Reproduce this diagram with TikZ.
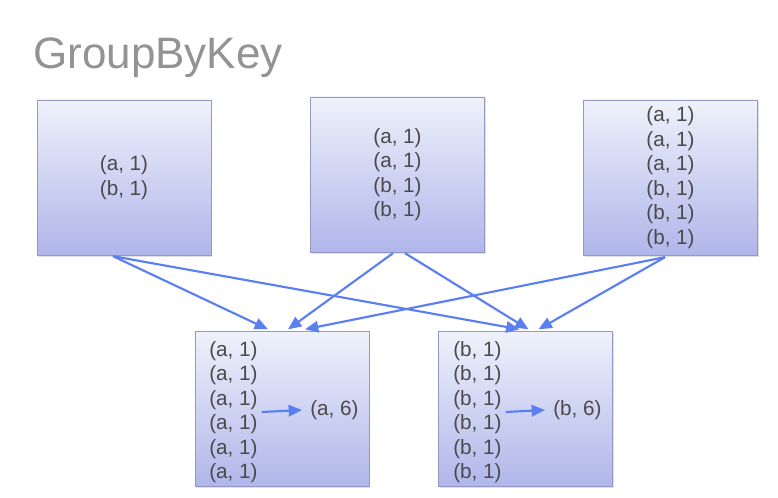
\documentclass[tikz,border=0pt]{standalone}
\usepackage{fontspec}
\setmainfont{Liberation Sans}
\usepackage{xcolor}
\usetikzlibrary{arrows.meta,positioning,calc,shadows}

\definecolor{boxtop}{HTML}{EFF1FB}
\definecolor{boxbot}{HTML}{B0B6EA}
\definecolor{boxline}{HTML}{9499C2}
\definecolor{arrowblue}{HTML}{5A7FF0}
\definecolor{pairtext}{HTML}{4A4A4A}
\definecolor{titlegray}{HTML}{939393}

\begin{document}
\begin{tikzpicture}[
    x=0.75pt, y=-0.75pt,
    box/.style={rectangle, draw=boxline, top color=boxtop, bottom color=boxbot, inner sep=0pt, outer sep=0pt, minimum width=130.5pt, minimum height=116.5pt, align=center, text=pairtext, font=\fontsize{15.5}{18.4}\selectfont, drop shadow={shadow xshift=0.8pt, shadow yshift=-1.2pt, opacity=0.25}},
    pairs/.style={inner sep=0pt, align=left, text=pairtext, font=\fontsize{15.5}{18.4}\selectfont},
    arrow/.style={-{Triangle[length=10pt,width=8.5pt]}, line width=1.6pt, draw=arrowblue}
]
    \useasboundingbox (0,0) rectangle (778,497);
    \node [anchor=base west, inner sep=0pt, text=titlegray, font=\fontsize{33}{40}\selectfont] (title) at (33,68) {GroupByKey};

    % input partitions
    \node [box] (in1) at (124,177.5) {(a, 1)\\(b, 1)};
    \node [box] (in2) at (397.5,174.5) {(a, 1)\\(a, 1)\\(b, 1)\\(b, 1)};
    \node [box] (in3) at (670.5,177.5) {(a, 1)\\(a, 1)\\(a, 1)\\(b, 1)\\(b, 1)\\(b, 1)};

    % grouped partitions
    \node [box] (grpa) at (282,409) {};
    \node [box] (grpb) at (525.5,409) {};
    \node [pairs, anchor=west] (lista) at (209,412) {(a, 1)\\(a, 1)\\(a, 1)\\(a, 1)\\(a, 1)\\(a, 1)};
    \node [pairs, anchor=west] (lstb) at (453,412) {(b, 1)\\(b, 1)\\(b, 1)\\(b, 1)\\(b, 1)\\(b, 1)};
    \node [pairs, anchor=west] (suma) at (310,410) {(a, 6)};
    \node [pairs, anchor=west] (sumb) at (553,410) {(b, 6)};

    \draw [arrow] ($(in1.south)+(-11,1)$) -- ($(grpa.north)+(-14,-2)$);
    \draw [arrow] ($(in1.south)+(-11,1)$) -- ($(grpb.north)+(-6,-2)$);
    \draw [arrow] ($(in2.south)+(-4.5,1)$) -- ($(grpa.north)+(6,-2)$);
    \draw [arrow] ($(in2.south)+(7.5,1)$) -- ($(grpb.north)+(3,-2)$);
    \draw [arrow] ($(in3.south)+(-5.5,2)$) -- ($(grpa.north)+(23,-2)$);
    \draw [arrow] ($(in3.south)+(-5.5,2)$) -- ($(grpb.north)+(13,-2)$);

    \draw [arrow] ([xshift=3pt]lista.east) -- ([xshift=-6pt]suma.west);
    \draw [arrow] ([xshift=3pt]lstb.east) -- ([xshift=-6pt]sumb.west);
\end{tikzpicture}
\end{document}
